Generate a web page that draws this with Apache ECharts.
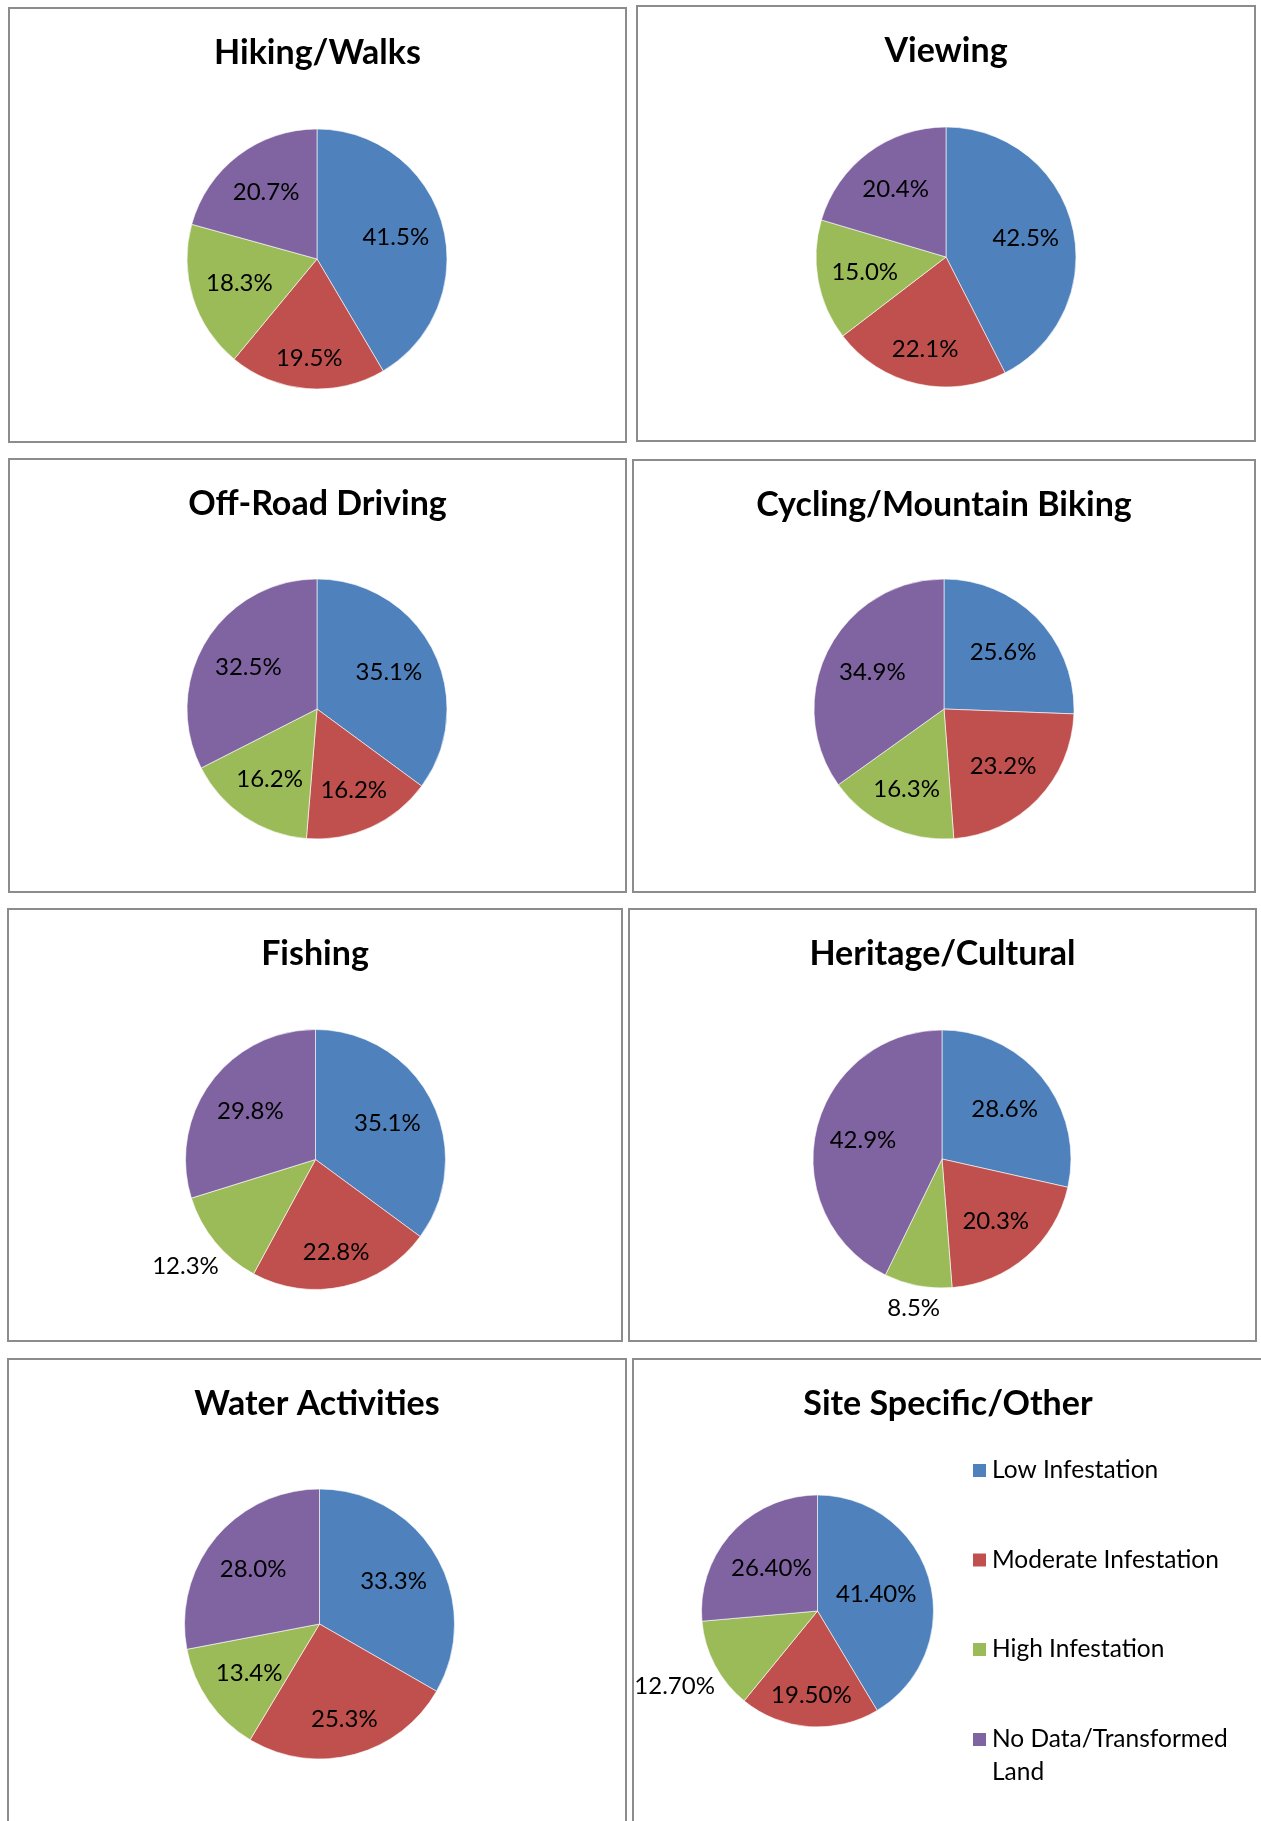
<!DOCTYPE html>
<html>
<head>
<meta charset="utf-8">
<title>Infestation levels by activity</title>
<script src="https://cdn.jsdelivr.net/npm/echarts@6/dist/echarts.min.js"></script>
<style>
  html, body { margin: 0; padding: 0; background: #fff; width: 1261px; height: 1821px; overflow: hidden; }
  .panel { position: absolute; box-sizing: border-box; border: 2px solid #8c8c8c; background: #fff; }
</style>
</head>
<body>
<script>
// ---- data ----
const categories = ['Low Infestation', 'Moderate Infestation', 'High Infestation', 'No Data/Transformed Land'];
const chartTitles = ['Hiking/Walks', 'Viewing', 'Off-Road Driving', 'Cycling/Mountain Biking',
                     'Fishing', 'Heritage/Cultural', 'Water Activities', 'Site Specific/Other'];

const hikingWalks      = [41.5, 19.5, 18.3, 20.7];
const viewing          = [42.5, 22.1, 15.0, 20.4];
const offRoadDriving   = [35.1, 16.2, 16.2, 32.5];
const cyclingBiking    = [25.6, 23.2, 16.3, 34.9];
const fishing          = [35.1, 22.8, 12.3, 29.8];
const heritageCultural = [28.6, 20.3, 8.5, 42.9];
const waterActivities  = [33.3, 25.3, 13.4, 28.0];
const siteSpecific     = [41.40, 19.50, 12.70, 26.40];

const seriesValues = [hikingWalks, viewing, offRoadDriving, cyclingBiking,
                      fishing, heritageCultural, waterActivities, siteSpecific];
const labelDecimals = [1, 1, 1, 1, 1, 1, 1, 2];

// ---- layout & style ----
const sliceColors = ['#4F81BD', '#C0504D', '#9BBB59', '#8064A2'];
const FONT = 'Lato, "Open Sans", sans-serif';

// box: [left, top, width, height]; center/radius in px inside the box
const panelLayout = [
  { box: [8, 7, 619, 436],    center: [307, 250],   radius: 130 },
  { box: [636, 5, 620, 437],  center: [308, 250],   radius: 130 },
  { box: [8, 458, 619, 435],  center: [307, 249],   radius: 130 },
  { box: [632, 459, 624, 434], center: [310, 248],  radius: 130 },
  { box: [7, 908, 616, 434],  center: [306.5, 249.5], radius: 130 },
  { box: [628, 908, 629, 434], center: [312, 249],  radius: 129 },
  { box: [7, 1358, 620, 472], center: [310.5, 264], radius: 135 },
  { box: [632, 1358, 632, 472], center: [183.5, 251], radius: 116, legend: true }
];

// slices smaller than this carry their label outside the pie
const outsideLabelBelow = 13;

function placeLabel(values, center, r) {
  const total = values.reduce((a, b) => a + b, 0);
  const mids = [];
  let acc = 0;
  values.forEach(v => { mids.push((acc + v / 2) / total * Math.PI * 2); acc += v; });
  return function (p) {
    const k = p.dataIndex;
    const dx = Math.sin(mids[k]);
    const dy = -Math.cos(mids[k]);
    const hw = p.labelRect.width / 2;
    let d;
    if (values[k] < outsideLabelBelow) {
      d = r + 3 + hw * Math.abs(dx) + 15 * Math.abs(dy);
    } else {
      d = r - 8 - ((hw + 3) * Math.abs(dx) + 20 * Math.abs(dy));
    }
    return { x: center[0] + d * dx, y: center[1] + d * dy, align: 'center', verticalAlign: 'middle' };
  };
}

function legendText(name) {
  if (name.length > 20) {
    const cut = name.lastIndexOf(' ');
    return '{f|' + name.slice(0, cut) + '}\n{t|' + name.slice(cut + 1) + '}';
  }
  return '{s|' + name + '}';
}

const legendFont = { fontFamily: FONT, fontSize: 24.5, color: '#000' };

panelLayout.forEach((lay, i) => {
  const el = document.createElement('div');
  el.className = 'panel';
  el.style.left = lay.box[0] + 'px';
  el.style.top = lay.box[1] + 'px';
  el.style.width = lay.box[2] + 'px';
  el.style.height = lay.box[3] + 'px';
  document.body.appendChild(el);

  const values = seriesValues[i];
  const dec = labelDecimals[i];
  const chart = echarts.init(el, null, { renderer: 'canvas' });

  const option = {
    animation: false,
    title: {
      text: chartTitles[i],
      left: 'center',
      top: 27,
      padding: 0,
      textStyle: { fontFamily: FONT, fontWeight: 'bold', fontSize: 34, color: '#000' }
    },
    series: [{
      type: 'pie',
      center: lay.center,
      radius: lay.radius,
      startAngle: 90,
      clockwise: true,
      silent: true,
      avoidLabelOverlap: false,
      itemStyle: { borderColor: '#fff', borderWidth: 0.6 },
      data: values.map((v, k) => ({ name: categories[k], value: v, itemStyle: { color: sliceColors[k] } })),
      label: {
        show: true,
        position: 'inside',
        color: '#000',
        fontFamily: FONT,
        fontSize: 24,
        formatter: p => p.value.toFixed(dec) + '%'
      },
      labelLine: { show: false },
      labelLayout: placeLabel(values, lay.center, lay.radius)
    }]
  };

  if (lay.legend) {
    option.legend = {
      orient: 'vertical',
      left: 337,
      top: 98,
      padding: 0,
      icon: 'rect',
      itemWidth: 15,
      itemHeight: 15,
      itemGap: 64.5,
      selectedMode: false,
      data: categories,
      formatter: legendText,
      textStyle: {
        ...legendFont,
        rich: {
          s: { ...legendFont },
          f: { ...legendFont, padding: [32, 0, 0, 0] },
          t: { ...legendFont, padding: [8, 0, 0, 0] }
        }
      }
    };
  }

  chart.setOption(option);
});
</script>
</body>
</html>
